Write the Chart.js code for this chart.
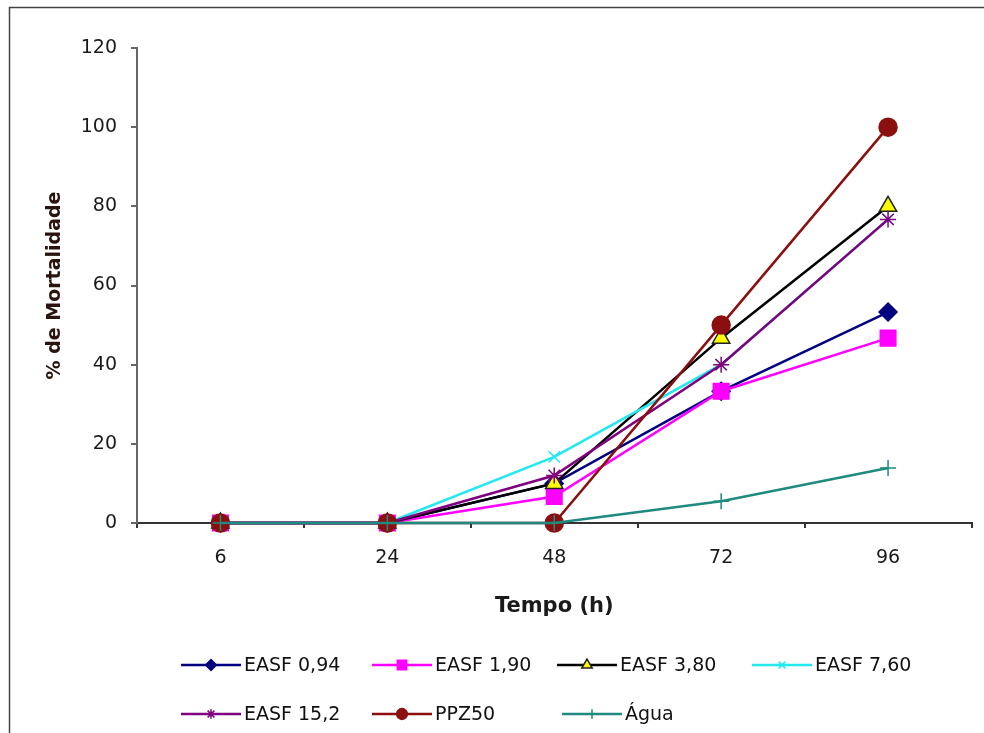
<!DOCTYPE html>
<html>
<head>
<meta charset="utf-8">
<script src="https://cdn.jsdelivr.net/npm/chart.js@4/dist/chart.umd.min.js"></script>
<style>
  html, body { margin: 0; padding: 0; background: #ffffff; }
  canvas { display: block; }
</style>
</head>
<body>
<canvas id="c" width="984" height="733"></canvas>
<script>
// ---- data ----
const categories = ['6', '24', '48', '72', '96'];
const seriesNames = ['EASF 0,94', 'EASF 1,90', 'EASF 3,80', 'EASF 7,60', 'EASF 15,2', 'PPZ50', 'Água'];
const easf094 = [0, 0, 10, 33.3, 53.3];
const easf190 = [0, 0, 6.7, 33.3, 46.7];
const easf380 = [0, 0, 10, 46.7, 80];
const easf760 = [0, 0, 16.7, 40, 76.7];
const easf152 = [0, 0, 12, 40, 76.7];
const ppz50   = [0, 0, 0, 50, 100];
const agua    = [0, 0, 0, 5.5, 13.9];
const yTicks  = [0, 20, 40, 60, 80, 100, 120];

const seriesData = [easf094, easf190, easf380, easf760, easf152, ppz50, agua];
const styles = [
  { line: '#000080', fill: '#000080', border: '#000080', pointStyle: 'rectRot', radius: 9 },
  { line: '#ff00ff', fill: '#ff00ff', border: '#ff00ff', pointStyle: 'rect', radius: 11 },
  { line: '#000000', fill: '#ffff00', border: '#222222', pointStyle: 'triangle', radius: 10 },
  { line: '#22e8f0', fill: '#22e8f0', border: '#22e8f0', pointStyle: 'crossRot', radius: 8 },
  { line: '#800080', fill: '#800080', border: '#800080', pointStyle: 'star', radius: 8 },
  { line: '#8b0f0f', fill: '#8b0f0f', border: '#8b0f0f', pointStyle: 'circle', radius: 9 },
  { line: '#1f8a80', fill: '#1f8a80', border: '#1f8a80', pointStyle: 'cross', radius: 8 }
];

const datasets = seriesNames.map((name, i) => ({
  label: name,
  data: seriesData[i],
  borderColor: styles[i].line,
  backgroundColor: styles[i].fill,
  pointBackgroundColor: styles[i].fill,
  pointBorderColor: styles[i].border,
  pointBorderWidth: 1.5,
  pointStyle: styles[i].pointStyle,
  pointRadius: styles[i].radius,
  borderWidth: 2.5,
  tension: 0,
  clip: false,
  order: seriesNames.length - i
}));

const FONT = '"DejaVu Sans", Arial, sans-serif';

const framePlugin = {
  id: 'frame',
  beforeDraw(chart) {
    const ctx = chart.ctx;
    ctx.save();
    ctx.fillStyle = '#ffffff';
    ctx.fillRect(0, 0, chart.width, chart.height);
    ctx.strokeStyle = '#444444';
    ctx.lineWidth = 1.5;
    ctx.beginPath();
    ctx.moveTo(9.5, chart.height);
    ctx.lineTo(9.5, 7.5);
    ctx.lineTo(chart.width, 7.5);
    ctx.stroke();
    ctx.restore();
  }
};

const legendPlugin = {
  id: 'customLegend',
  afterDraw(chart) {
    const ctx = chart.ctx;
    const cols = [[181, 372, 557, 752], [181, 372, 562]];
    const rows = [665, 714];
    let k = 0;
    ctx.save();
    ctx.font = '19px ' + FONT;
    ctx.textBaseline = 'middle';
    ctx.textAlign = 'left';
    for (let r = 0; r < rows.length; r++) {
      for (let c = 0; c < cols[r].length; c++) {
        const ds = chart.data.datasets[k];
        const x = cols[r][c], y = rows[r];
        ctx.strokeStyle = ds.borderColor;
        ctx.lineWidth = 2.5;
        ctx.beginPath();
        ctx.moveTo(x, y);
        ctx.lineTo(x + 60, y);
        ctx.stroke();
        ctx.fillStyle = ds.pointBackgroundColor;
        ctx.strokeStyle = ds.pointBorderColor;
        ctx.lineWidth = 1.5;
        Chart.helpers.drawPoint(ctx, {
          pointStyle: ds.pointStyle,
          radius: Math.max(4, ds.pointRadius * 0.6),
          borderWidth: 1.5,
          rotation: 0
        }, x + 30, y);
        ctx.fillStyle = '#111111';
        ctx.fillText(ds.label, x + 63, y + 1);
        k++;
      }
    }
    ctx.restore();
  }
};

new Chart(document.getElementById('c'), {
  type: 'line',
  data: { labels: categories, datasets },
  options: {
    responsive: false,
    animation: false,
    devicePixelRatio: 1,
    layout: { padding: { left: 0, right: 11, top: 48, bottom: 0 } },
    plugins: {
      legend: { display: false },
      tooltip: { enabled: false }
    },
    scales: {
      x: {
        type: 'category',
        offset: true,
        afterFit(scale) { scale.height = 210; },
        grid: { drawOnChartArea: false, drawTicks: true, tickLength: 5, offset: true, color: '#333333', lineWidth: 2 },
        border: { display: true, color: '#333333', width: 2 },
        ticks: { color: '#1a1a1a', font: { family: FONT, size: 19 }, padding: 19 },
        title: {
          display: true,
          text: 'Tempo (h)',
          color: '#1a1a1a',
          font: { family: FONT, size: 21, weight: 'bold' },
          padding: { top: 0, bottom: 114 }
        }
      },
      y: {
        min: 0,
        max: 120,
        afterFit(scale) { scale.width = 137; },
        afterBuildTicks(scale) { scale.ticks = yTicks.map(v => ({ value: v })); },
        grid: { drawOnChartArea: false, drawTicks: true, tickLength: 6, color: '#666666', lineWidth: 2 },
        border: { display: true, color: '#666666', width: 2 },
        ticks: { color: '#1a1a1a', font: { family: FONT, size: 19 }, padding: 14 },
        title: {
          display: true,
          text: '% de Mortalidade',
          color: '#2a140e',
          font: { family: FONT, size: 19, weight: 'bold' },
          padding: { top: 44, bottom: 0 }
        }
      }
    }
  },
  plugins: [framePlugin, legendPlugin]
});
</script>
</body>
</html>
